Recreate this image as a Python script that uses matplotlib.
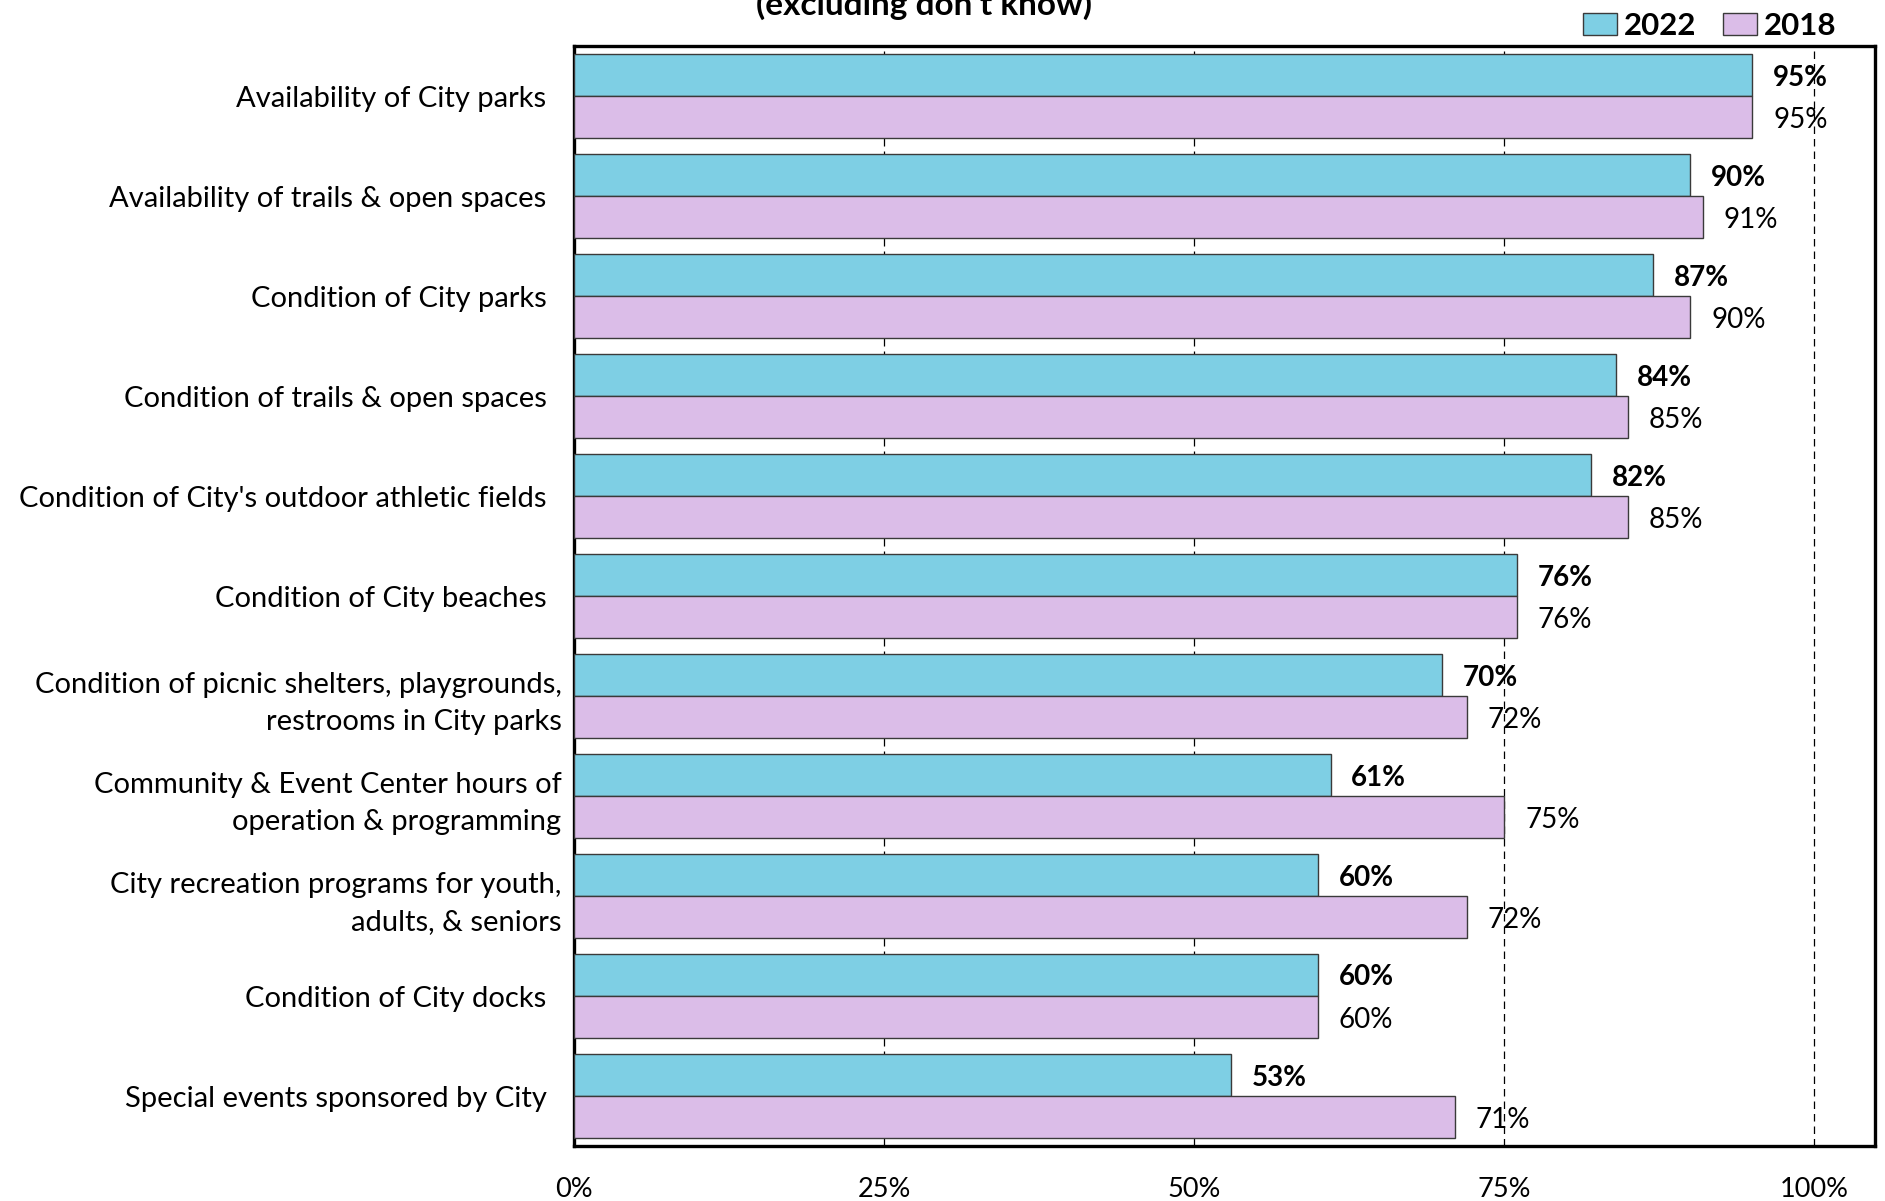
import matplotlib
matplotlib.use("Agg")
import matplotlib.pyplot as plt
from matplotlib.patches import Patch
import numpy as np

plt.rcParams['font.family'] = ['Lato', 'DejaVu Sans']

categories = [
    "Availability of City parks  ",
    "Availability of trails & open spaces  ",
    "Condition of City parks  ",
    "Condition of trails & open spaces  ",
    "Condition of City's outdoor athletic fields  ",
    "Condition of City beaches  ",
    "Condition of picnic shelters, playgrounds,\nrestrooms in City parks",
    "Community & Event Center hours of\noperation & programming",
    "City recreation programs for youth,\nadults, & seniors",
    "Condition of City docks  ",
    "Special events sponsored by City  ",
]
values_2022 = [95, 90, 87, 84, 82, 76, 70, 61, 60, 60, 53]
values_2018 = [95, 91, 90, 85, 85, 76, 72, 75, 72, 60, 71]
series_names = ["2022", "2018"]
x_ticks = [0, 25, 50, 75, 100]
x_tick_labels = ["0%", "25%", "50%", "75%", "100%"]
subtitle = "(excluding don\u2019t know)"

color_2022 = "#7ECFE4"
color_2018 = "#DBBDE8"
edge = "#3a3a3a"

W, H = 1885, 1201
fig = plt.figure(figsize=(W / 100, H / 100), dpi=100)
ax = fig.add_axes([574 / W, 1 - 1146 / H, (1875 - 574) / W, (1146 - 46) / H])

y = np.arange(len(categories))
bh = 0.42
ax.barh(y - bh / 2, values_2022, height=bh, color=color_2022, edgecolor=edge,
        linewidth=1.0, zorder=3)
ax.barh(y + bh / 2, values_2018, height=bh, color=color_2018, edgecolor=edge,
        linewidth=1.0, zorder=3)

for yi, v in zip(y, values_2022):
    ax.annotate(f"{v}%", (v, yi - bh / 2), xytext=(15, 0), textcoords="offset points",
                va="center_baseline", ha="left", fontsize=20, fontweight="bold", zorder=4)
for yi, v in zip(y, values_2018):
    ax.annotate(f"{v}%", (v, yi + bh / 2), xytext=(15, 0), textcoords="offset points",
                va="center_baseline", ha="left", fontsize=20, zorder=4)

ax.set_xlim(0, 104.9)
ax.set_ylim(len(categories) - 0.5, -0.5)
ax.set_yticks(y)
ax.set_yticklabels(categories, fontsize=21, linespacing=1.5)
ax.set_xticks(x_ticks)
ax.set_xticklabels(x_tick_labels, fontsize=19.5)
ax.tick_params(axis="y", length=0, pad=9)
ax.tick_params(axis="x", length=0, pad=22)

ax.xaxis.grid(True, linestyle=(0, (6, 4)), color="black", linewidth=0.9, zorder=1)
ax.set_axisbelow(True)
for s in ax.spines.values():
    s.set_linewidth(2.4)
    s.set_color("black")

fig.text(0.49, 1 - 15 / H, subtitle, ha="center", va="baseline",
         fontsize=24, fontweight="bold")

handles = [Patch(facecolor=color_2022, edgecolor=edge, linewidth=1.0),
           Patch(facecolor=color_2018, edgecolor=edge, linewidth=1.0)]
leg = fig.legend(handles, series_names, loc="lower right", ncol=2,
                 bbox_to_anchor=(1836 / W, 1 - 40 / H), frameon=False,
                 prop={"size": 22.5, "weight": "bold"}, handlelength=1.1,
                 handleheight=0.68, handletextpad=0.2, columnspacing=0.85,
                 borderpad=0, borderaxespad=0)

fig.savefig("out.png", dpi=100)
